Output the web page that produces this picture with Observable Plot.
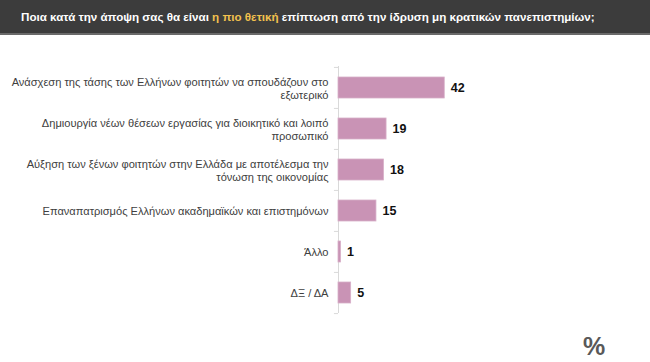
<!DOCTYPE html>
<html>
<head>
<meta charset="utf-8">
<script src="https://cdn.jsdelivr.net/npm/d3@7"></script>
<script src="https://cdn.jsdelivr.net/npm/@observablehq/plot@0.6"></script>
<style>
  html, body { margin: 0; padding: 0; background: #fff; }
  #wrap { position: relative; width: 650px; height: 362px; overflow: hidden; font-family: "Liberation Sans", sans-serif; }
  #header { height: 33px; background: #3c3c3c; border-bottom: 2px solid #6a6a6a; color: #fff; font-weight: 700; line-height: 33px; padding-left: 21px; white-space: nowrap; }
  #header .hl { color: #f2c14e; }
  #chart svg { display: block; }
  #pct { position: absolute; left: 583px; top: 332px; font-size: 25px; line-height: 28px; font-weight: 700; color: #595959; font-family: "Liberation Sans", sans-serif; }
</style>
</head>
<body>
<div id="wrap">
  <div id="header"></div>
  <div id="chart"></div>
  <div id="pct">%</div>
</div>
<script>
const titlePre = "Ποια κατά την άποψη σας θα είναι ";
const titleHighlight = "η πιο θετική";
const titlePost = " επίπτωση από την ίδρυση μη κρατικών πανεπιστημίων;";

const categories = [
  "Ανάσχεση της τάσης των Ελλήνων φοιτητών να σπουδάζουν στο\nεξωτερικό",
  "Δημιουργία νέων θέσεων εργασίας για διοικητικό και λοιπό\nπροσωπικό",
  "Αύξηση των ξένων φοιτητών στην Ελλάδα με αποτέλεσμα την\nτόνωση της οικονομίας",
  "Επαναπατρισμός Ελλήνων ακαδημαϊκών και επιστημόνων",
  "Άλλο",
  "ΔΞ / ΔΑ"
];
const values = [42, 19, 18, 15, 1, 5];

// fit font sizes to the reference's text widths
const ctx = document.createElement("canvas").getContext("2d");
function fitSize(text, weight, family, targetWidth) {
  ctx.font = `${weight} 100px ${family}`;
  return 100 * targetWidth / ctx.measureText(text).width;
}
const titleSize = Math.min(13, fitSize(titlePre + titleHighlight + titlePost, 700, "Liberation Sans", 574));
const labelSize = Math.min(12.5, fitSize(categories[0].split("\n")[0], 400, "Liberation Sans", 317));

const header = document.getElementById("header");
header.style.fontSize = titleSize + "px";
header.append(document.createTextNode(titlePre));
const hl = document.createElement("span");
hl.className = "hl";
hl.textContent = titleHighlight;
header.append(hl);
header.append(document.createTextNode(titlePost));

const data = categories.map((c, i) => ({category: c, value: values[i]}));

const height = 327;
const marginTop = 31;
const marginBottom = 49;
const step = (height - marginTop - marginBottom) / categories.length;

const chart = Plot.plot({
  width: 650,
  height,
  marginLeft: 338,
  marginRight: 59,
  marginTop,
  marginBottom,
  style: {fontFamily: "Liberation Sans, sans-serif", background: "transparent"},
  x: {domain: [0, 100], axis: null},
  y: {domain: categories, paddingInner: 0.5, paddingOuter: 0.25, axis: null},
  marks: [
    Plot.ruleX([0], {stroke: "#d9d9d9", strokeWidth: 1}),
    Plot.ruleY(categories, {y: d => d, x1: -1.6, x2: 0, dy: -step / 2, stroke: "#d9d9d9"}),
    Plot.ruleY(categories.slice(-1), {y: d => d, x1: -1.6, x2: 0, dy: step / 2, stroke: "#d9d9d9"}),
    Plot.barX(data, {y: "category", x: "value", fill: "#c993b5", stroke: "#d8b0c9", strokeWidth: 0.8}),
    Plot.text(data, {y: "category", x: "value", text: d => String(d.value), dx: 6, textAnchor: "start", fontWeight: 700, fontSize: 12.5, fill: "#111"}),
    Plot.text(data, {y: "category", x: 0, text: "category", dx: -10, textAnchor: "end", fontSize: labelSize, lineHeight: 13 / labelSize, fill: "#404040"})
  ]
});
document.getElementById("chart").append(chart);
</script>
</body>
</html>
